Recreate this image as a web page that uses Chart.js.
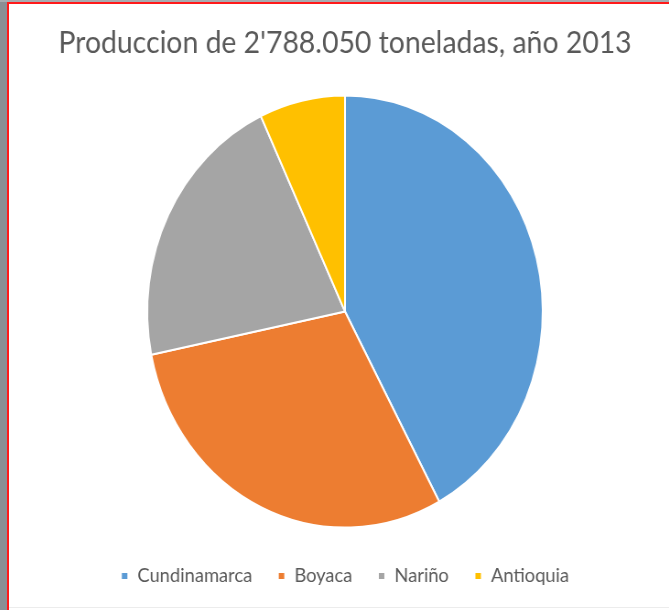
<!DOCTYPE html>
<html>
<head>
<meta charset="utf-8">
<script src="https://cdn.jsdelivr.net/npm/chart.js@4.4.1/dist/chart.umd.min.js"></script>
<style>
  html, body { margin: 0; padding: 0; background: #ffffff; }
  body { width: 669px; height: 610px; position: relative; overflow: hidden; }
  .frame-side { position: absolute; left: 0; top: 0; width: 7px; height: 610px; background: #8a8f94; }
  .frame-top { position: absolute; left: 0; top: 0; width: 669px; height: 2px; background: #a8acb0; }
  .red-left { position: absolute; left: 7px; top: 2px; width: 2px; height: 608px; background: #ff1a1a; }
  .red-top { position: absolute; left: 7px; top: 2px; width: 662px; height: 2px; background: #ff1a1a; }
  .base-line { position: absolute; left: 9px; top: 607px; width: 660px; height: 1px; background: #ececec; }
  #wrap { position: absolute; left: 9px; top: 4px; width: 721px; height: 606px;
          transform: scaleX(0.9155); transform-origin: 0 0; }
</style>
</head>
<body>
<div class="frame-side"></div>
<div class="frame-top"></div>
<div class="red-left"></div>
<div class="red-top"></div>
<div class="base-line"></div>
<div id="wrap"><canvas id="c" width="721" height="606"></canvas></div>
<script>
// Potato production by department, share of the national total (%)
const departamentos = ['Cundinamarca', 'Boyaca', 'Nariño', 'Antioquia'];
const participacion = [42.1, 29.7, 21.2, 7.0];
const colores = ['#5B9BD5', '#ED7D31', '#A5A5A5', '#FFC000'];
const titulo = "Produccion de 2'788.050 toneladas, año 2013";

new Chart(document.getElementById('c'), {
  type: 'pie',
  data: {
    labels: departamentos,
    datasets: [{
      data: participacion,
      backgroundColor: colores,
      borderColor: '#ffffff',
      borderWidth: 2,
      radius: 216
    }]
  },
  options: {
    responsive: false,
    animation: false,
    devicePixelRatio: 1,
    layout: { padding: { left: 13, right: 0, top: 0, bottom: 14 } },
    plugins: {
      title: {
        display: true,
        text: titulo,
        color: '#595959',
        font: { family: 'Lato', size: 31, weight: 'normal' },
        padding: { top: 20, bottom: 24 }
      },
      legend: {
        position: 'bottom',
        labels: {
          color: '#595959',
          font: { family: 'Lato', size: 20 },
          boxWidth: 8,
          boxHeight: 8,
          padding: 28
        }
      },
      tooltip: { enabled: false }
    }
  }
});
</script>
</body>
</html>
